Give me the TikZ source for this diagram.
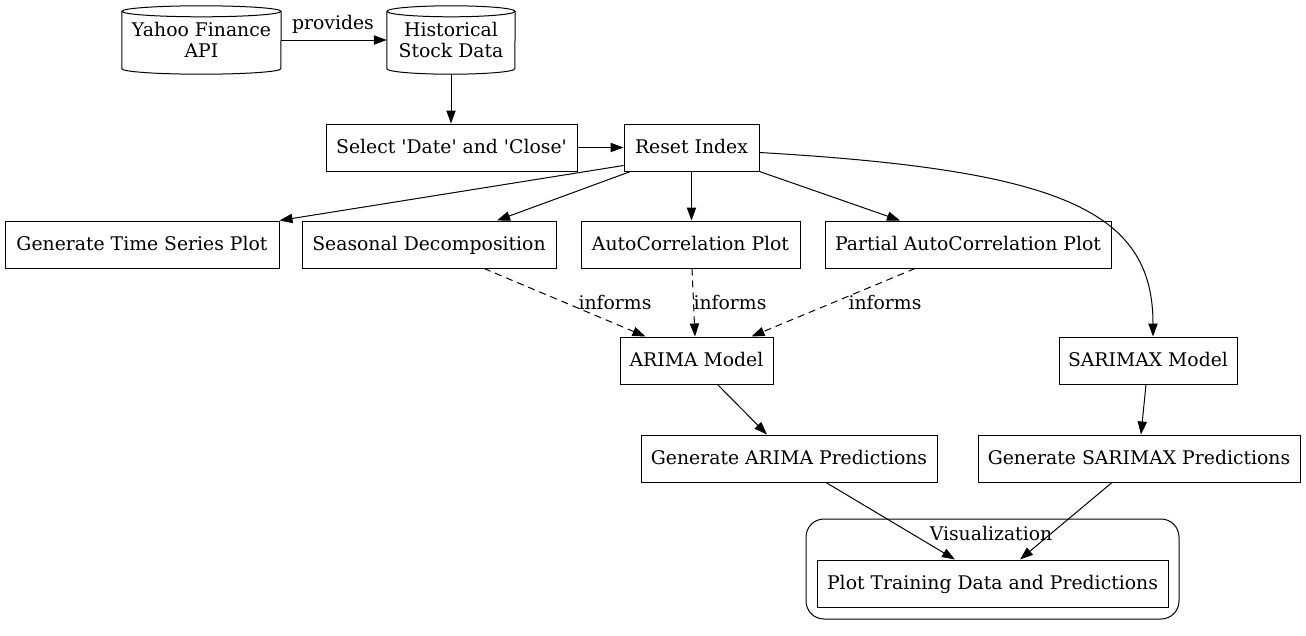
\documentclass[tikz,border=0pt]{standalone}
\usepackage{fontspec}
\setmainfont{DejaVu Serif}
\newfontfamily\dvs{DejaVu Serif}
\usetikzlibrary{arrows.meta}
\begin{document}
\begin{tikzpicture}[x=1pt,y=-1pt,
  txt/.style={font=\dvs\fontsize{18.8}{20.5}\selectfont},
  box/.style={txt, draw, line width=1pt, minimum height=47pt, inner sep=0pt, text height=14.5pt, text depth=2.5pt},
  cyl/.style={txt, draw=none, minimum height=68pt, inner sep=0pt, align=center},
  lbl/.style={txt, inner sep=0pt},
  edge/.style={line width=1pt, -{Triangle[length=13pt,width=9.3pt]}},
  dedge/.style={edge, dash pattern=on 7pt off 5pt}]
\useasboundingbox (0,0) rectangle (1306,635);
% cylinders
\node[cyl, minimum width=159pt] (yahoo) at (201.5,40) {Yahoo Finance\\API};
\node[cyl, minimum width=128pt] (hist) at (451,40) {Historical\\Stock Data};
\foreach \n/\r in {yahoo/79.5pt, hist/64pt}{
  \draw[line width=1pt] ([yshift=-5.5pt]\n.north) ellipse [x radius=\r, y radius=5.5pt];
  \draw[line width=1pt] ([yshift=-5.5pt]\n.north west) -- ([yshift=5.5pt]\n.south west)
     arc[start angle=180, end angle=360, x radius=\r, y radius=5.5pt] -- ([yshift=-5.5pt]\n.north east);
}
% boxes
\node[box, minimum width=251pt] (select) at (451.5,147.5) {Select 'Date' and 'Close'};
\node[box, minimum width=135pt] (reset) at (691.5,147.5) {Reset Index};
\node[box, minimum width=274pt] (gts) at (142,244.5) {Generate Time Series Plot};
\node[box, minimum width=254pt] (seas) at (429,244.5) {Seasonal Decomposition};
\node[box, minimum width=219pt] (acf) at (690.5,244.5) {AutoCorrelation Plot};
\node[box, minimum width=286pt] (pacf) at (968,244.5) {Partial AutoCorrelation Plot};
\node[box, minimum width=153pt] (arima) at (696.5,360.5) {ARIMA Model};
\node[box, minimum width=178pt] (sarimax) at (1148,360.5) {SARIMAX Model};
\node[box, minimum width=296pt] (garima) at (789,458.5) {Generate ARIMA Predictions};
\node[box, minimum width=322pt] (gsarimax) at (1139,458.5) {Generate SARIMAX Predictions};
% cluster
\node[draw, line width=1pt, rounded corners=18pt, minimum width=373pt, minimum height=100pt, inner sep=0pt] (vis) at (992.5,569) {};
\node[lbl] (vislbl) at (991,533) {Visualization};
\node[box, minimum width=351pt] (plot) at (992.5,583.5) {Plot Training Data and Predictions};
% edges
\draw[edge] (yahoo.east) -- (hist.west);
\node[lbl] (provides) at (333,24) {provides};
\draw[edge] (hist.south) -- (hist.south |- select.north);
\draw[edge] (select.east) -- (reset.west);
\draw[edge] ([yshift=-18pt]reset.west) -- (gts.north east);
\draw[edge] ([xshift=7pt]reset.south west) -- ([xshift=68pt]seas.north);
\draw[edge] (reset.south) -- (reset.south |- acf.north);
\draw[edge] (reset.south east) -- ([xshift=-68pt]pacf.north);
\draw[edge] ([yshift=-5pt]reset.east) .. controls (1060,170) and (1153,210) .. ([xshift=5pt]sarimax.north);
\draw[dedge] ([xshift=55pt]seas.south) -- ([xshift=-51pt]arima.north);
\draw[dedge] ([xshift=1.5pt]acf.south) -- ([xshift=-1.5pt]arima.north);
\draw[dedge] ([xshift=-53pt]pacf.south) -- ([xshift=55pt]arima.north);
\node[lbl] (inf1) at (615,302) {informs};
\node[lbl] (inf2) at (730,302) {informs};
\node[lbl] (inf3) at (885,302) {informs};
\draw[edge] ([xshift=21pt]arima.south) -- ([xshift=-22pt]garima.north);
\draw[edge] ([xshift=-2pt]sarimax.south) -- ([xshift=2pt]gsarimax.north);
\draw[edge] ([xshift=37pt]garima.south) -- ([xshift=-37.5pt]plot.north);
\draw[edge] ([xshift=-27pt]gsarimax.south) -- ([xshift=27.5pt]plot.north);
\end{tikzpicture}
\end{document}
